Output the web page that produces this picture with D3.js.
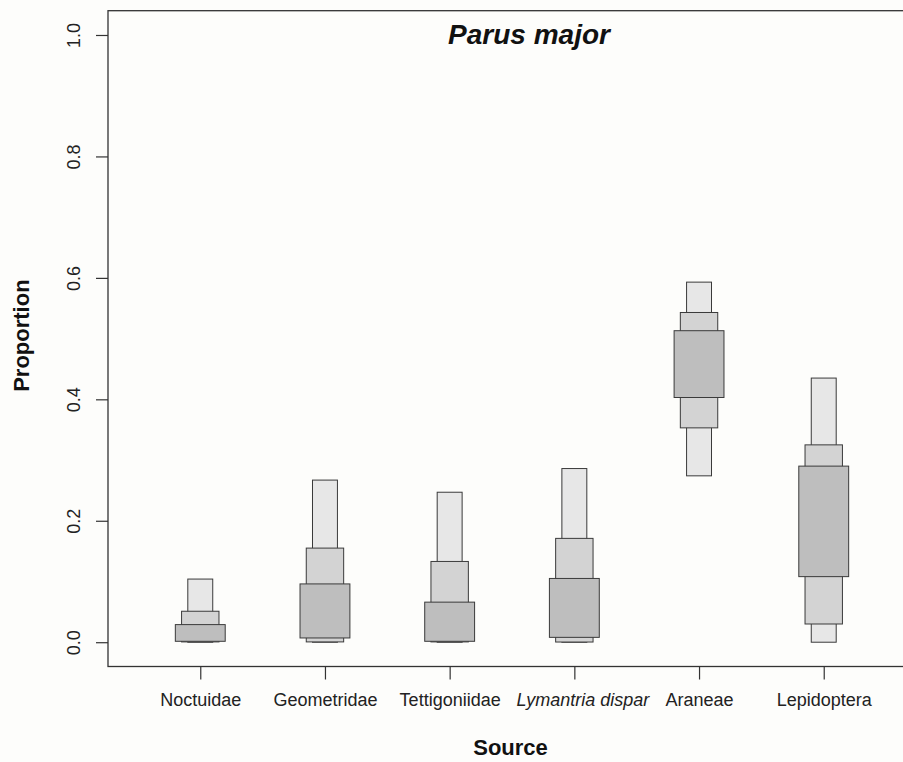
<!DOCTYPE html>
<html>
<head>
<meta charset="utf-8">
<script src="https://cdn.jsdelivr.net/npm/d3@7"></script>
<style>
  html, body { margin: 0; padding: 0; background: #fdfdfb; }
  svg { display: block; font-family: "Liberation Sans", Arial, Helvetica, sans-serif; }
</style>
</head>
<body>
<svg id="chart" width="903" height="762"></svg>
<script>
// Diet sources and posterior credible intervals of their proportions
const sources = ["Noctuidae", "Geometridae", "Tettigoniidae", "Lymantria dispar", "Araneae", "Lepidoptera"];
const italicSources = ["Lymantria dispar"];

const lo95 = [0.000, 0.000, 0.000, 0.000, 0.274, 0.000];
const hi95 = [0.104, 0.267, 0.247, 0.286, 0.593, 0.435];
const lo75 = [0.0005, 0.0005, 0.0005, 0.0003, 0.353, 0.030];
const hi75 = [0.051, 0.155, 0.133, 0.171, 0.543, 0.325];
const lo50 = [0.0015, 0.007, 0.0015, 0.008, 0.403, 0.108];
const hi50 = [0.029, 0.096, 0.066, 0.105, 0.513, 0.290];

const yTicks = [0, 0.2, 0.4, 0.6, 0.8, 1.0];

// Interval levels, drawn narrowest first so the wider boxes sit on top
const levels = [
  { lo: lo95, hi: hi95, halfWidth: 0.10, fill: "#e7e7e7" },
  { lo: lo75, hi: hi75, halfWidth: 0.15, fill: "#d3d3d3" },
  { lo: lo50, hi: hi50, halfWidth: 0.20, fill: "#bebebe" }
];

const svg = d3.select("#chart");
const plot = { left: 108, right: 916, top: 10.7, bottom: 666.5 };

const x = d3.scaleLinear().domain([0.26, sources.length + 0.74]).range([plot.left, plot.right]);
const y = d3.scaleLinear().domain([-0.04, 1.04]).range([plot.bottom, plot.top]);

// Boxes
const g = svg.append("g");
levels.forEach(level => {
  g.selectAll(null)
    .data(sources.map((s, i) => i))
    .enter()
    .append("rect")
    .attr("x", i => x(i + 1 - level.halfWidth))
    .attr("width", i => x(i + 1 + level.halfWidth) - x(i + 1 - level.halfWidth))
    .attr("y", i => y(level.hi[i]))
    .attr("height", i => y(level.lo[i]) - y(level.hi[i]))
    .attr("fill", level.fill)
    .attr("stroke", "#3a3a3a")
    .attr("stroke-width", 1);
});

// Plot frame
svg.append("rect")
  .attr("x", plot.left).attr("y", plot.top)
  .attr("width", plot.right - plot.left).attr("height", plot.bottom - plot.top)
  .attr("fill", "none").attr("stroke", "#333").attr("stroke-width", 1.3);

// Y axis
const yAxis = svg.append("g")
  .attr("transform", `translate(${plot.left},0)`)
  .call(d3.axisLeft(y).tickValues(yTicks).tickSize(12).tickFormat(d3.format(".1f")));
yAxis.select(".domain").remove();
yAxis.selectAll(".tick line").attr("stroke", "#333").attr("stroke-width", 1.2);
yAxis.selectAll(".tick text")
  .attr("x", null).attr("dy", null)
  .attr("transform", "translate(-28,0) rotate(-90)")
  .attr("text-anchor", "middle")
  .attr("font-size", 18)
  .attr("fill", "#222");

// X axis
const xAxis = svg.append("g")
  .attr("transform", `translate(0,${plot.bottom})`)
  .call(d3.axisBottom(x)
    .tickValues(sources.map((s, i) => i + 1))
    .tickSize(13)
    .tickPadding(14)
    .tickFormat(i => sources[i - 1]));
xAxis.select(".domain").remove();
xAxis.selectAll(".tick line").attr("stroke", "#333").attr("stroke-width", 1.2);
xAxis.selectAll(".tick text")
  .attr("font-size", 18)
  .attr("fill", "#222")
  .attr("font-style", i => italicSources.includes(sources[i - 1]) ? "italic" : "normal")
  .attr("dx", i => italicSources.includes(sources[i - 1]) ? 8 : 0);

// Title and axis titles
svg.append("text")
  .attr("x", 529).attr("y", 44)
  .attr("text-anchor", "middle")
  .attr("font-size", 28).attr("font-weight", "bold").attr("font-style", "italic")
  .attr("fill", "#111")
  .text("Parus major");

svg.append("text")
  .attr("x", 510.5).attr("y", 755)
  .attr("text-anchor", "middle")
  .attr("font-size", 22).attr("font-weight", "bold")
  .attr("fill", "#111")
  .text("Source");

svg.append("text")
  .attr("transform", `translate(29,${(plot.top + plot.bottom) / 2 - 3}) rotate(-90)`)
  .attr("text-anchor", "middle")
  .attr("font-size", 22).attr("font-weight", "bold")
  .attr("fill", "#111")
  .text("Proportion");
</script>
</body>
</html>
